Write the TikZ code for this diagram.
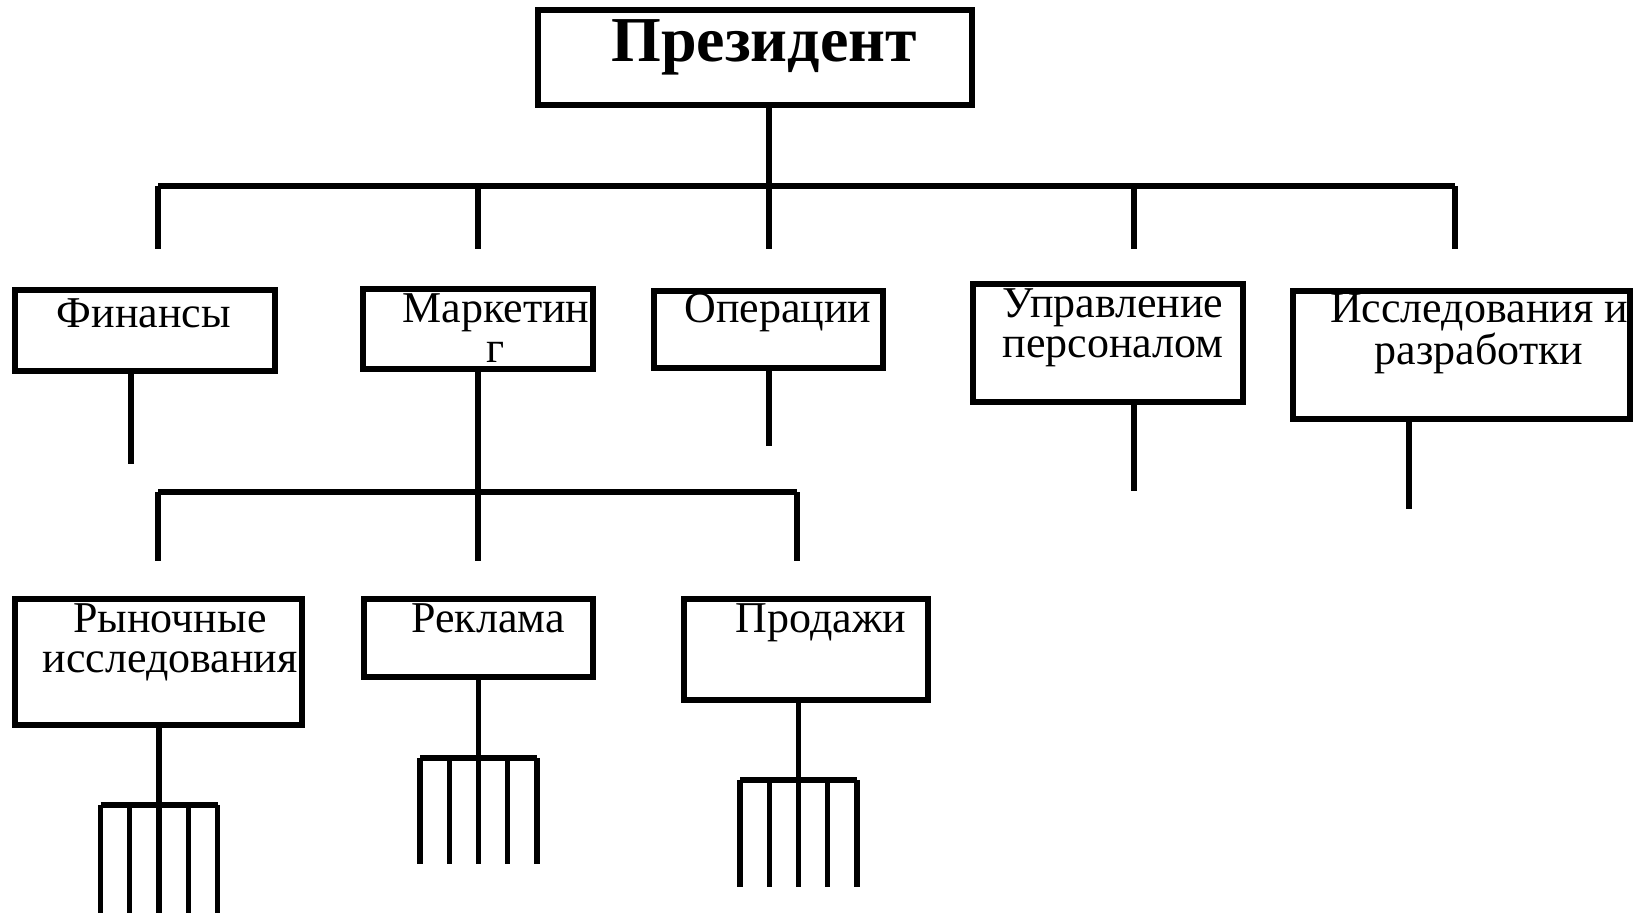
\documentclass[tikz,border=0pt]{standalone}
\usepackage{fontspec}
\setmainfont{Liberation Serif}
\tikzset{epais/.style={line width=3pt},
	mince/.style={line width=2.6pt}}
\newcommand{\boite}[5]{\node[draw,epais,inner sep=0pt,
	minimum width=#4*0.5pt,minimum height=#5*0.5pt] (#1) at (#2,#3) {}}
\newcommand{\texte}[4]{\node[anchor=base,align=center,inner sep=0pt,
	font=\fontsize{22}{20}\selectfont] (#1) at (#2,#3) {#4}}
\newcommand{\tige}[2]{\draw[mince] (#1) -- (#2)}
\newcommand{\dent}[4]{\coordinate (#1h) at (#2,#3);
	\coordinate (#1b) at (#2,#4);
	\draw[mince] (#1h) -- (#1b)}
\newcommand{\rateau}[4]{\dent{#11}{#2-58.5}{#3}{#4};
	\dent{#12}{#2-29.25}{#3}{#4};
	\dent{#13}{#2}{#3}{#4};
	\dent{#14}{#2+29.25}{#3}{#4};
	\dent{#15}{#2+58.5}{#3}{#4};
	\draw[epais] (#11h) -- (#15h)}

\begin{document}
\begin{tikzpicture}[x=0.5pt, y=-0.5pt]
	\useasboundingbox (0,0) rectangle (1634,913);
%The president
	\boite{pres}{755}{57.5}{434}{95};
	\node[anchor=base,inner sep=0pt,font=\fontsize{32}{32}\selectfont\bfseries]
		(presT) at (764,62) {Президент};
%The departments (base = last line)
	\boite{fin}{145}{330.5}{260}{81};
	\texte{finT}{144}{328}{Финансы};
	\boite{mark}{478}{329}{230}{80};
	\texte{markT}{496}{363}{Маркетин\\г};
	\boite{oper}{768.5}{329.5}{229}{77};
	\texte{operT}{778}{323}{Операции};
	\boite{upr}{1108}{343}{270}{118};
	\texte{uprT}{1113}{358}{Управление\\персоналом};
	\boite{res}{1461.5}{355}{337}{128};
	\texte{resT}{1479}{365}{Исследования и\\разработки};
%The marketing units
	\boite{ryn}{158.5}{662}{287}{126};
	\texte{rynT}{170}{673}{Рыночные\\исследования};
	\boite{rek}{478.5}{638}{229}{78};
	\texte{rekT}{488}{633}{Реклама};
	\boite{prod}{806}{649.5}{244}{101};
	\texte{prodT}{821}{633}{Продажи};
%Upper bus
	\coordinate (busL) at (158,186);
	\coordinate (busR) at (1455,186);
	\draw[epais] (busL) -- (busR);
	\coordinate (d1) at (158,249);
	\coordinate (d2) at (478,249);
	\coordinate (d3) at (769,249);
	\coordinate (d4) at (1134,249);
	\coordinate (d5) at (1455,249);
	\tige{pres.south -| d3}{d3};
	\tige{d1 |- busL}{d1};
	\tige{d2 |- busL}{d2};
	\tige{d4 |- busL}{d4};
	\tige{d5 |- busL}{d5};
%Stems of the departments
	\coordinate (f1) at (131,464);
	\tige{fin.south -| f1}{f1};
	\coordinate (o1) at (769,446);
	\tige{oper.south -| o1}{o1};
	\coordinate (u1) at (1134,491);
	\tige{upr.south -| u1}{u1};
	\coordinate (r1) at (1409,509);
	\tige{res.south -| r1}{r1};
%Lower bus
	\coordinate (sbL) at (158,492.5);
	\coordinate (sbR) at (797,492.5);
	\draw[epais] (sbL) -- (sbR);
	\coordinate (s1) at (158,561);
	\coordinate (s2) at (478,561);
	\coordinate (s3) at (797,561);
	\tige{mark.south -| s2}{s2};
	\tige{sbL}{s1};
	\tige{sbR}{s3};
%The rakes
	\rateau{ryn}{159}{805}{913};
	\tige{ryn.south -| ryn3h}{ryn3h};
	\rateau{rek}{478.5}{758}{864};
	\tige{rek.south -| rek3h}{rek3h};
	\rateau{prod}{798.5}{780}{887};
	\tige{prod.south -| prod3h}{prod3h};
\end{tikzpicture}
\end{document}
